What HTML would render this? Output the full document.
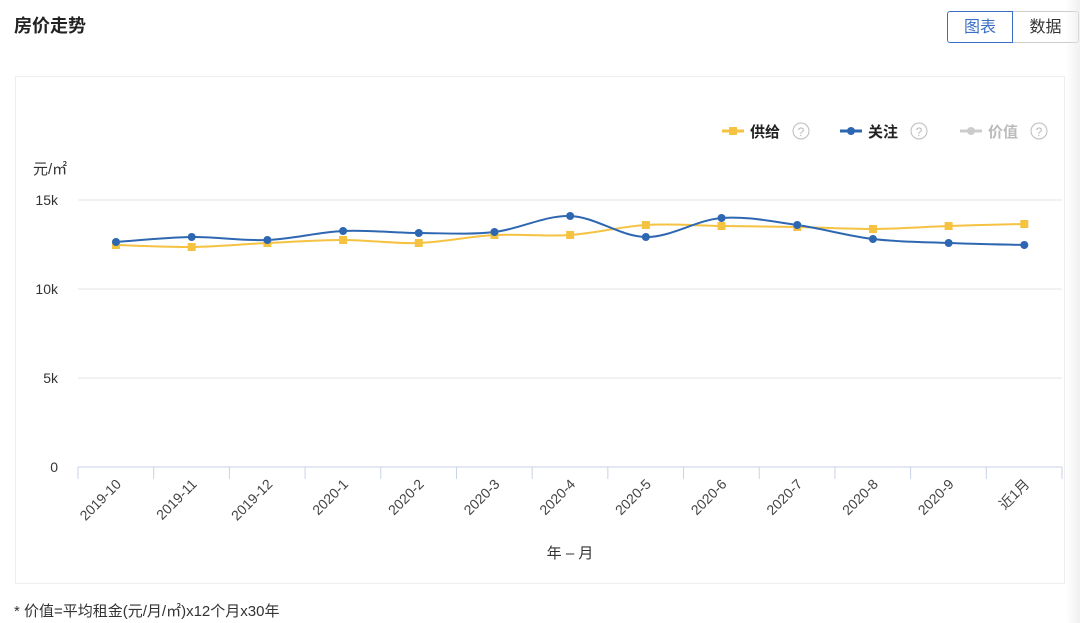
<!DOCTYPE html>
<html><head><meta charset="utf-8"><style>
body{margin:0;width:1080px;height:623px;background:#fff;font-family:"Liberation Sans","Noto Sans CJK SC",sans-serif;overflow:hidden;position:relative}
.t{position:absolute;left:14px;top:12px;font-size:18px;font-weight:bold;color:#222}
.btn{position:absolute;top:11px;height:32px;line-height:32px;font-size:16px;text-align:center;box-sizing:border-box}
.box{position:absolute;left:15px;top:76px;width:1050px;height:508px;border:1px solid #eee;box-sizing:border-box}
.foot{position:absolute;left:14px;top:600px;font-size:15px;color:#333}
.shade{position:absolute;right:0;top:0;width:14px;height:623px;background:linear-gradient(to right,rgba(255,255,255,0),rgba(230,230,230,.6))}
</style></head><body>
<div class="t">房价走势</div>
<div class="btn" style="left:947px;width:66px;border:1px solid #3a6fc4;color:#3a6fc4;border-radius:3px 0 0 3px">图表</div>
<div class="btn" style="left:1013px;width:66px;border:1px solid #ccc;border-left:none;color:#333;border-radius:0 3px 3px 0">数据</div>
<div class="box"></div>
<svg width="1080" height="623" style="position:absolute;left:0;top:0" font-family="Liberation Sans, Noto Sans CJK SC, sans-serif">
<g stroke="#e6e6e6"><line x1="78" x2="1062" y1="200" y2="200"/><line x1="78" x2="1062" y1="289" y2="289"/><line x1="78" x2="1062" y1="378" y2="378"/></g>
<line x1="78" x2="1062" y1="467" y2="467" stroke="#c8d2e6"/>
<g stroke="#c8d2e6" id="tk"></g>
<g font-size="14" fill="#333" text-anchor="end"><text x="58" y="205">15k</text><text x="58" y="294">10k</text><text x="58" y="383">5k</text><text x="58" y="472">0</text></g>
<text x="33" y="174" font-size="15" fill="#333">元/㎡</text>
<text x="570" y="558" font-size="15" fill="#333" text-anchor="middle">年 – 月</text>
<g font-size="15" font-weight="bold"><line x1="722" x2="744" y1="131" y2="131" stroke="#f5c242" stroke-width="3"/><rect x="729" y="127" width="8" height="8" fill="#f5c242"/><text x="750" y="137" fill="#222">供给</text>
<circle cx="801" cy="131" r="8" fill="none" stroke="#bbb"/><text x="801" y="136" font-size="12" fill="#bbb" text-anchor="middle" font-weight="normal">?</text>
<line x1="840" x2="862" y1="131" y2="131" stroke="#2e67b1" stroke-width="3"/><circle cx="851" cy="131" r="4" fill="#2e67b1"/><text x="868" y="137" fill="#222">关注</text>
<circle cx="919" cy="131" r="8" fill="none" stroke="#bbb"/><text x="919" y="136" font-size="12" fill="#bbb" text-anchor="middle" font-weight="normal">?</text>
<line x1="960" x2="982" y1="131" y2="131" stroke="#ccc" stroke-width="3"/><circle cx="971" cy="131" r="4" fill="#ccc"/><text x="988" y="137" fill="#bbb">价值</text>
<circle cx="1039" cy="131" r="8" fill="none" stroke="#bbb"/><text x="1039" y="136" font-size="12" fill="#bbb" text-anchor="middle" font-weight="normal">?</text></g>
<g id="lab" font-size="14" fill="#444" text-anchor="end"></g>
<g id="ser"></g>
</svg>
<div class="foot">* 价值=平均租金(元/月/㎡)x12个月x30年</div>
<div class="shade"></div>
<script>
var ns="http://www.w3.org/2000/svg";
function el(p,t,a,txt){var e=document.createElementNS(ns,t);for(var k in a)e.setAttribute(k,a[k]);if(txt)e.textContent=txt;document.getElementById(p).appendChild(e);}
var step=(1062-78)/13,labs=["2019-10","2019-11","2019-12","2020-1","2020-2","2020-3","2020-4","2020-5","2020-6","2020-7","2020-8","2020-9","近1月"];
for(var i=0;i<=13;i++){var x=78+i*step;el("tk","line",{x1:x,x2:x,y1:467,y2:479});}
var xs=[];for(var i=0;i<13;i++){xs.push(116+i*step);var x=xs[i]+6;el("lab","text",{x:x,y:485,transform:"rotate(-45 "+x+" 485)"},labs[i]);}
function path(ys){var d="M"+xs[0]+","+ys[0];for(var i=0;i<12;i++){var p0=i?i-1:0,p3=i<11?i+2:12;var c1x=xs[i]+(xs[i+1]-xs[p0])/6,c1y=ys[i]+(ys[i+1]-ys[p0])/6,c2x=xs[i+1]-(xs[p3]-xs[i])/6,c2y=ys[i+1]-(ys[p3]-ys[i])/6;d+=" C"+c1x+","+c1y+" "+c2x+","+c2y+" "+xs[i+1]+","+ys[i+1];}return d;}
var Y=[245,247,243,240,243,235,235,225,226,227,229,226,224],B=[242,237,240,231,233,232,216,237,218,225,239,243,245];
el("ser","path",{d:path(Y),fill:"none",stroke:"#f5c242","stroke-width":2});
el("ser","path",{d:path(B),fill:"none",stroke:"#2e67b1","stroke-width":2});
for(var i=0;i<13;i++){el("ser","rect",{x:xs[i]-4,y:Y[i]-4,width:8,height:8,fill:"#f5c242"});el("ser","circle",{cx:xs[i],cy:B[i],r:4,fill:"#2e67b1"});}
</script>
</body></html>
